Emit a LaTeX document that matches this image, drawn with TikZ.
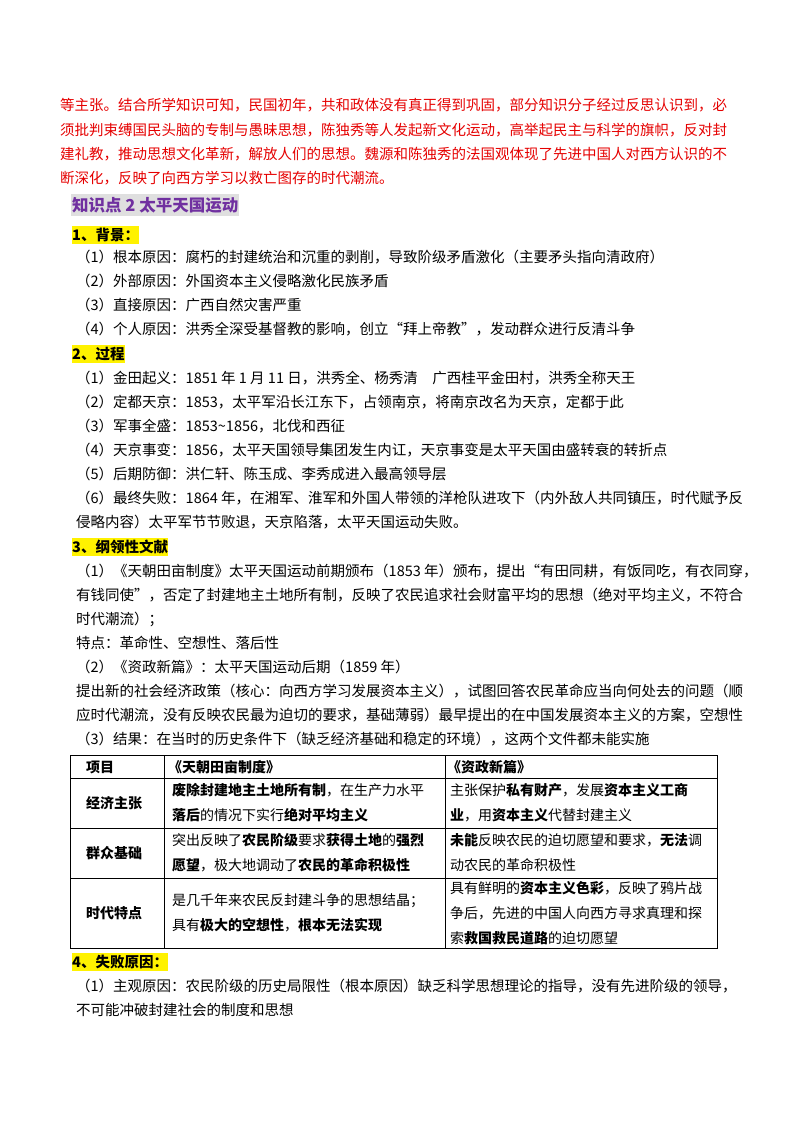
\documentclass[tikz,border=0pt]{standalone}
\usepackage{fontspec}
\setmainfont{Noto Sans CJK SC}
\definecolor{hpurple}{HTML}{7030A0}
\begin{document}
\begin{tikzpicture}[x=1pt,y=-1pt,
 t/.style={anchor=west,inner sep=0pt,font=\fontsize{14.5}{24}\selectfont},
 r/.style={t,text=red!90!black},
 hl/.style={t,fill=yellow,font=\fontsize{14.5}{24}\selectfont\bfseries,inner ysep=2pt},
 cell/.style={anchor=west,inner sep=0pt,align=left,font=\fontsize{14}{25}\selectfont},
 tl/.style={line width=0.8pt}]
\useasboundingbox (0,0) rectangle (800,1132);
\node[r] (p1) at (60,105) {等主张。结合所学知识可知，民国初年，共和政体没有真正得到巩固，部分知识分子经过反思认识到，必};
\node[r] (p2) at (60,130) {须批判束缚国民头脑的专制与愚昧思想，陈独秀等人发起新文化运动，高举起民主与科学的旗帜，反对封};
\node[r] (p3) at (60,154) {建礼教，推动思想文化革新，解放人们的思想。魏源和陈独秀的法国观体现了先进中国人对西方认识的不};
\node[r] (p4) at (60,178) {断深化，反映了向西方学习以救亡图存的时代潮流。};
\node[t,fill=gray!25,text=hpurple,font=\fontsize{16.5}{24}\selectfont\bfseries,inner ysep=3pt,inner xsep=1pt] (h) at (71,205) {知识点 2 太平天国运动};
\node[hl] (s1) at (72,235) {1、背景：};
\node[t] (a1) at (76,257) {（1）根本原因：腐朽的封建统治和沉重的剥削，导致阶级矛盾激化（主要矛头指向清政府）};
\node[t] (a2) at (76,281) {（2）外部原因：外国资本主义侵略激化民族矛盾};
\node[t] (a3) at (76,305) {（3）直接原因：广西自然灾害严重};
\node[t] (a4) at (76,329) {（4）个人原因：洪秀全深受基督教的影响，创立“拜上帝教”，发动群众进行反清斗争};
\node[hl] (s2) at (72,354) {2、过程};
\node[t] (b1) at (76,378) {（1）金田起义：1851 年 1 月 11 日，洪秀全、杨秀清\quad 广西桂平金田村，洪秀全称天王};
\node[t] (b2) at (76,402) {（2）定都天京：1853，太平军沿长江东下，占领南京，将南京改名为天京，定都于此};
\node[t] (b3) at (76,426) {（3）军事全盛：1853\textasciitilde 1856，北伐和西征};
\node[t] (b4) at (76,450) {（4）天京事变：1856，太平天国领导集团发生内讧，天京事变是太平天国由盛转衰的转折点};
\node[t] (b5) at (76,474) {（5）后期防御：洪仁轩、陈玉成、李秀成进入最高领导层};
\node[t] (b6) at (76,498) {（6）最终失败：1864 年，在湘军、淮军和外国人带领的洋枪队进攻下（内外敌人共同镇压，时代赋予反};
\node[t] (b7) at (76,522) {侵略内容）太平军节节败退，天京陷落，太平天国运动失败。};
\node[hl] (s3) at (72,547) {3、纲领性文献};
\node[t] (c1) at (76,571) {（1）《天朝田亩制度》太平天国运动前期颁布（1853 年）颁布，提出“有田同耕，有饭同吃，有衣同穿，};
\node[t] (c2) at (76,595) {有钱同使”，否定了封建地主土地所有制，反映了农民追求社会财富平均的思想（绝对平均主义，不符合};
\node[t] (c3) at (76,619) {时代潮流）；};
\node[t] (c4) at (76,643) {特点：革命性、空想性、落后性};
\node[t] (c5) at (76,667) {（2）《资政新篇》：太平天国运动后期（1859 年）};
\node[t] (c6) at (76,691) {提出新的社会经济政策（核心：向西方学习发展资本主义），试图回答农民革命应当向何处去的问题（顺};
\node[t] (c7) at (76,715) {应时代潮流，没有反映农民最为迫切的要求，基础薄弱）最早提出的在中国发展资本主义的方案，空想性};
\node[t] (c8) at (76,739) {（3）结果：在当时的历史条件下（缺乏经济基础和稳定的环境），这两个文件都未能实施};
% table
\coordinate (tl) at (70,755); \coordinate (br) at (717,948);
\draw[tl] (tl) rectangle (br);
\draw[tl] (164,755) -- (164,948);
\draw[tl] (445,755) -- (445,948);
\draw[tl] (70,778) -- (717,778);
\draw[tl] (70,828) -- (717,828);
\draw[tl] (70,878) -- (717,878);
\node[cell,font=\fontsize{14}{25}\selectfont\bfseries] (h1) at (86,767) {项目};
\node[cell,font=\fontsize{14}{25}\selectfont\bfseries] (h2) at (168,767) {《天朝田亩制度》};
\node[cell,font=\fontsize{14}{25}\selectfont\bfseries] (h3) at (447,767) {《资政新篇》};
\node[cell,font=\fontsize{14}{25}\selectfont\bfseries] (r1) at (86,803) {经济主张};
\node[cell,font=\fontsize{14}{25}\selectfont\bfseries] (r2) at (86,853) {群众基础};
\node[cell,font=\fontsize{14}{25}\selectfont\bfseries] (r3) at (86,913) {时代特点};
\node[cell] (x1) at (172,803) {\textbf{废除封建地主土地所有制}，在生产力水平\\\textbf{落后}的情况下实行\textbf{绝对平均主义}};
\node[cell] (y1) at (450,803) {主张保护\textbf{私有财产}，发展\textbf{资本主义工商}\\\textbf{业}，用\textbf{资本主义}代替封建主义};
\node[cell] (x2) at (172,853) {突出反映了\textbf{农民阶级}要求\textbf{获得土地}的\textbf{强烈}\\\textbf{愿望}，极大地调动了\textbf{农民的革命积极性}};
\node[cell] (y2) at (450,853) {\textbf{未能}反映农民的迫切愿望和要求，\textbf{无法}调\\动农民的革命积极性};
\node[cell] (x3) at (172,913) {是几千年来农民反封建斗争的思想结晶；\\具有\textbf{极大的空想性}，\textbf{根本无法实现}};
\node[cell] (y3) at (450,913) {具有鲜明的\textbf{资本主义色彩}，反映了鸦片战\\争后，先进的中国人向西方寻求真理和探\\索\textbf{救国救民道路}的迫切愿望};
\node[hl] (s4) at (72,962) {4、失败原因：};
\node[t] (d1) at (76,986) {（1）主观原因：农民阶级的历史局限性（根本原因）缺乏科学思想理论的指导，没有先进阶级的领导，};
\node[t] (d2) at (76,1010) {不可能冲破封建社会的制度和思想};
\end{tikzpicture}
\end{document}
